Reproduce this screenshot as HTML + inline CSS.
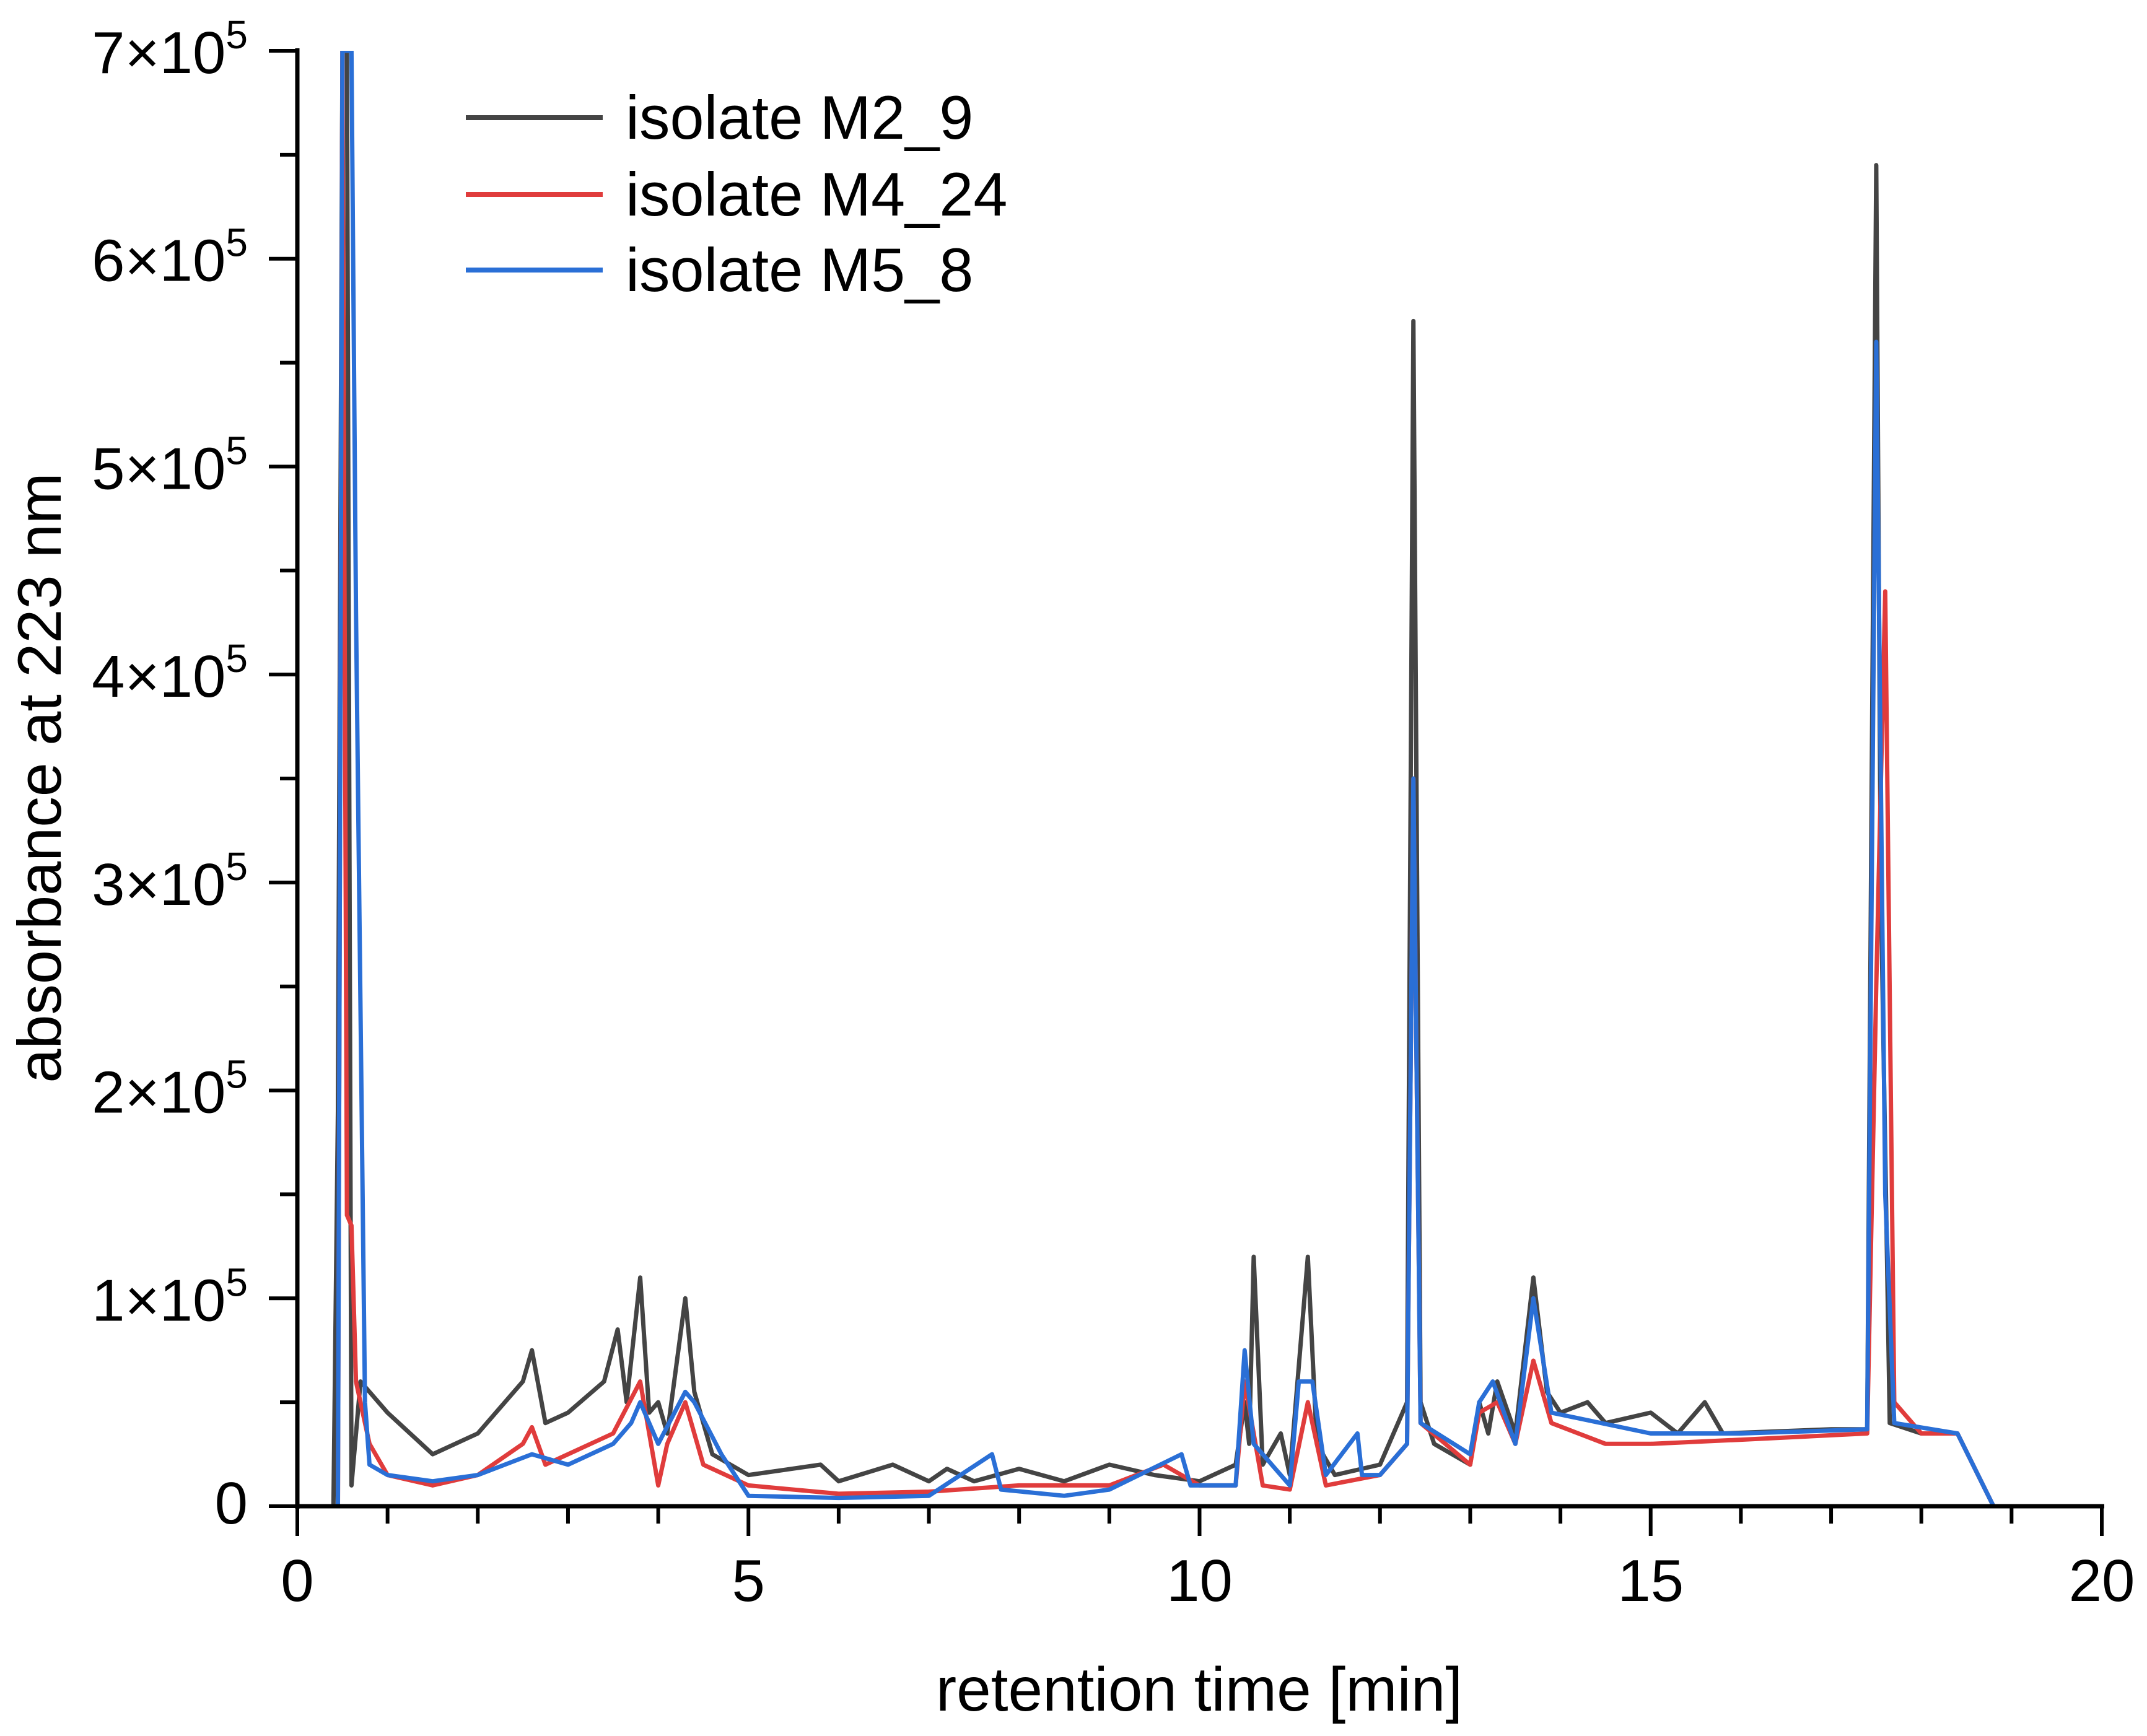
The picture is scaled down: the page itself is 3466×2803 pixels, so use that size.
<!DOCTYPE html>
<html><head><meta charset="utf-8"><style>
html,body{margin:0;padding:0;background:#fff;}
svg{display:block;font-family:"Liberation Sans",Arial,sans-serif;}
</style></head><body>
<svg id="chart" width="3466" height="2803" viewBox="0 0 3466 2803" xmlns="http://www.w3.org/2000/svg">
<defs><clipPath id="plotclip"><rect x="480" y="82" width="2913" height="2360"/></clipPath></defs>
<g id="series" clip-path="url(#plotclip)"></g>
<g id="axes"></g>
<g id="legend">
  <line x1="752" y1="190" x2="973" y2="190" stroke="#444" stroke-width="8"/>
  <text x="1010" y="224" font-size="99">isolate M2_9</text>
  <line x1="752" y1="314" x2="973" y2="314" stroke="#e03c3c" stroke-width="8"/>
  <text x="1010" y="348" font-size="99">isolate M4_24</text>
  <line x1="752" y1="436" x2="973" y2="436" stroke="#2a6fd6" stroke-width="8"/>
  <text x="1010" y="470" font-size="99">isolate M5_8</text>
</g>
<text x="1936" y="2762" font-size="100" text-anchor="middle">retention time [min]</text>
<text transform="translate(98,1256) rotate(-90)" font-size="99" text-anchor="middle">absorbance at 223 nm</text>
</svg>
<script>
// data (values in units of 1e5)
const m2_9_t = [0,0.4,0.45,0.5,0.55,0.6,0.7,0.8,1.0,1.5,2.0,2.5,2.6,2.75,3.0,3.4,3.55,3.65,3.8,3.9,4.0,4.1,4.3,4.4,4.6,5.0,5.8,6.0,6.6,7.0,7.2,7.5,8.0,8.5,9.0,9.5,10.0,10.4,10.5,10.55,10.6,10.7,10.9,11.0,11.2,11.3,11.5,12.0,12.3,12.37,12.45,12.6,13.0,13.1,13.2,13.3,13.5,13.7,13.85,14.0,14.3,14.5,15.0,15.3,15.6,15.8,17.0,17.4,17.45,17.5,17.55,17.65,18.0,18.4,18.8];
const m2_9_v = [0,0,1.9,7,7,0.1,0.6,0.55,0.45,0.25,0.35,0.6,0.75,0.4,0.45,0.6,0.85,0.5,1.1,0.45,0.5,0.35,1.0,0.55,0.25,0.15,0.2,0.12,0.2,0.12,0.18,0.12,0.18,0.12,0.2,0.15,0.12,0.2,0.5,0.3,1.2,0.2,0.35,0.15,1.2,0.3,0.15,0.2,0.5,5.7,0.5,0.3,0.2,0.5,0.35,0.6,0.35,1.1,0.55,0.45,0.5,0.4,0.45,0.35,0.5,0.35,0.37,0.37,3.5,6.45,3,0.4,0.35,0.35,0];
const m4_24_t = [0,0.45,0.5,0.55,0.6,0.65,0.8,1.0,1.5,2.0,2.5,2.6,2.75,3.0,3.5,3.8,4.0,4.1,4.3,4.5,5.0,6,7,8,9,9.6,10.0,10.4,10.5,10.7,11.0,11.2,11.4,12.0,12.3,12.37,12.45,13.0,13.1,13.3,13.5,13.7,13.9,14.5,15,16,17.4,17.5,17.6,17.7,18,18.4,18.8];
const m4_24_v = [0,0,7,1.4,1.35,0.6,0.3,0.15,0.1,0.15,0.3,0.38,0.2,0.25,0.35,0.6,0.1,0.3,0.5,0.2,0.1,0.06,0.07,0.1,0.1,0.2,0.1,0.1,0.6,0.1,0.08,0.5,0.1,0.15,0.3,3.5,0.4,0.2,0.45,0.5,0.3,0.7,0.4,0.3,0.3,0.32,0.35,2.5,4.4,0.5,0.35,0.35,0];
const m5_8_t = [0,0.45,0.5,0.6,0.65,0.75,0.8,1.0,1.5,2.0,2.6,3.0,3.5,3.7,3.8,4.0,4.3,4.4,4.7,5.0,6,7,7.7,7.8,8.5,9,9.8,9.9,10.4,10.5,10.6,11.0,11.1,11.25,11.4,11.75,11.8,12.0,12.3,12.37,12.45,13.0,13.1,13.25,13.5,13.7,13.9,15,16,17.4,17.5,17.6,17.7,18.4,18.8];
const m5_8_v = [0,0,7,7,4.3,0.5,0.2,0.15,0.12,0.15,0.25,0.2,0.3,0.4,0.5,0.3,0.55,0.5,0.25,0.05,0.04,0.05,0.25,0.08,0.05,0.08,0.25,0.1,0.1,0.75,0.3,0.1,0.6,0.6,0.15,0.35,0.15,0.15,0.3,3.5,0.4,0.25,0.5,0.6,0.3,1.0,0.45,0.35,0.35,0.37,5.6,1.5,0.4,0.35,0];
const xTicks = [0,5,10,15,20];
const yTicks = [0,1,2,3,4,5,6,7];

const NS="http://www.w3.org/2000/svg";
const X0=480,X1=3393,Y0=2432,Y1=82;
const xs=t=>X0+(t/20)*(X1-X0);
const ys=v=>Y0-(v/7)*(Y0-Y1);
function mk(tag,attrs,parent){const e=document.createElementNS(NS,tag);for(const k in attrs)e.setAttribute(k,attrs[k]);parent.appendChild(e);return e;}

const sg=document.getElementById('series');
function drawSeries(t,v,color,name){
  const d=t.map((tt,i)=>(i?'L':'M')+xs(tt).toFixed(1)+','+ys(v[i]).toFixed(1)).join(' ');
  const p=mk('path',{d:d,fill:'none',stroke:color,'stroke-width':7,'stroke-linejoin':'round'},sg);
  
  
}
drawSeries(m2_9_t,m2_9_v,'#444','series-m2-9');
drawSeries(m4_24_t,m4_24_v,'#e03c3c','series-m4-24');
drawSeries(m5_8_t,m5_8_v,'#2a6fd6','series-m5-8');

const ax=document.getElementById('axes');
const xl=mk('line',{x1:X0,y1:Y0,x2:X1+4,y2:Y0,stroke:'#000','stroke-width':7},ax);


const yl=mk('line',{x1:X0,y1:Y0+4,x2:X0,y2:Y1-4,stroke:'#000','stroke-width':7},ax);


for(let m=0;m<=20;m++){
  const major=m%5===0;
  const tk=mk('line',{x1:xs(m),y1:Y0,x2:xs(m),y2:Y0+(major?48:28),stroke:'#000','stroke-width':6},ax);
  
  
}
xTicks.forEach(t=>{
  const tx=mk('text',{x:xs(t),y:2585,'font-size':96,'text-anchor':'middle'},ax);
  tx.textContent=String(t);
  
  
});
for(let m=0;m<=14;m++){
  const major=m%2===0;
  const tk=mk('line',{x1:X0,y1:ys(m/2),x2:X0-(major?46:28),y2:ys(m/2),stroke:'#000','stroke-width':6},ax);
  
  
}
yTicks.forEach(v=>{
  const tx=mk('text',{x:400,y:ys(v)+(v===0?28:36),'font-size':96,'text-anchor':'end'},ax);
  
  
  if(v===0){tx.textContent='0';}
  else{
    tx.textContent=v+'×10';
    const sup=document.createElementNS(NS,'tspan');
    sup.setAttribute('dy','-40');sup.setAttribute('font-size','64');
    sup.textContent='5';tx.appendChild(sup);
  }
});
</script>
</body></html>
